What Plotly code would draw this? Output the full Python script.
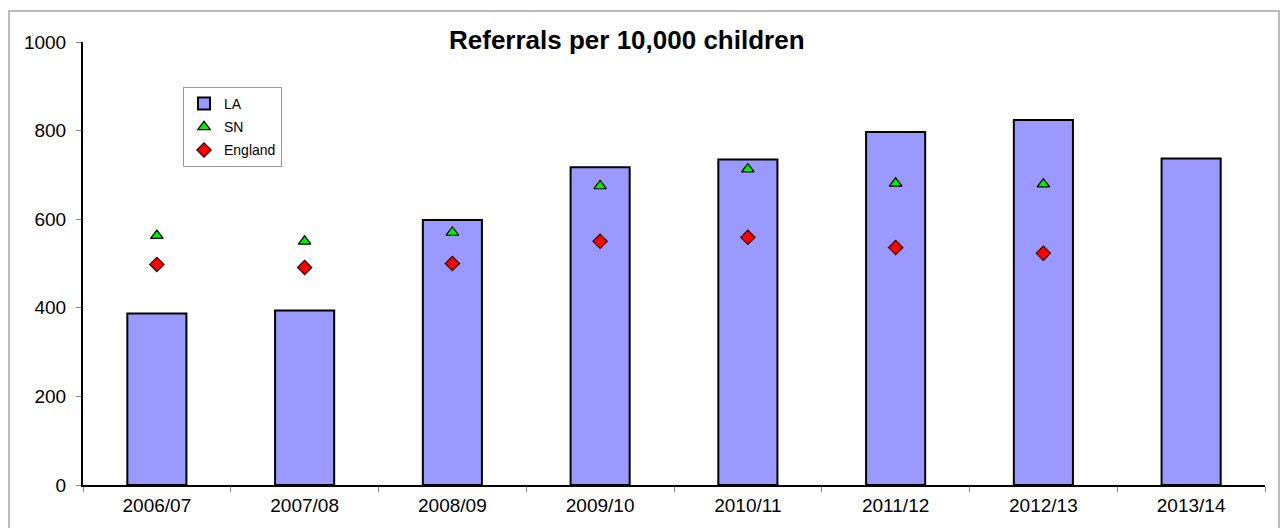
import plotly.graph_objects as go

# Referrals per 10,000 children by year
years = ["2006/07", "2007/08", "2008/09", "2009/10", "2010/11", "2011/12", "2012/13", "2013/14"]
la_values = [387, 394, 598, 717, 735, 797, 824, 737]
sn_values = [563, 550, 570, 675, 713, 681, 679, None]
england_values = [498, 491, 500, 550, 559, 536, 523, None]
y_ticks = [0, 200, 400, 600, 800, 1000]

FONT = "Liberation Sans, Arial, sans-serif"

fig = go.Figure()

fig.add_trace(go.Bar(
    x=years, y=la_values, name="LA", width=0.4,
    marker=dict(color="#9999FF", line=dict(color="#000000", width=2)),
    legendgroup="la",
))
fig.add_trace(go.Scatter(
    x=years, y=sn_values, name="SN", mode="markers",
    marker=dict(symbol="triangle-up", size=11, color="#00EE00",
                line=dict(color="#000000", width=1.2)),
    legendgroup="sn",
))
fig.add_trace(go.Scatter(
    x=years, y=england_values, name="England", mode="markers",
    marker=dict(symbol="diamond", size=11, color="#FF0000",
                line=dict(color="#330000", width=1.2)),
    legendgroup="eng",
))

fig.update_layout(
    width=1281, height=528,
    margin=dict(l=83, r=16, t=42, b=43),
    paper_bgcolor="white", plot_bgcolor="white",
    font=dict(family=FONT, color="#000000"),
    showlegend=True,
    legend=dict(
        x=(183 - 83) / 1182, y=(485 - 87) / 443,
        xanchor="left", yanchor="top",
        bgcolor="white", bordercolor="#999999", borderwidth=1,
        font=dict(size=14, family=FONT),
        tracegroupgap=2, itemwidth=30,
    ),
    annotations=[dict(
        text="<b>Referrals per 10,000 children</b>",
        xref="paper", yref="paper",
        x=(627 - 83) / 1182, y=(485 - 40) / 443,
        xanchor="center", yanchor="middle", showarrow=False,
        font=dict(size=26, family=FONT, color="#000000"),
    )],
    shapes=[dict(
        type="rect", xref="paper", yref="paper",
        x0=(9 - 83) / 1182, x1=(1279 - 83) / 1182,
        y0=-0.3, y1=(485 - 11) / 443,
        line=dict(color="#BBBBBB", width=2), fillcolor="rgba(0,0,0,0)",
        layer="below",
    )],
)

fig.update_xaxes(
    type="category", showgrid=False, showline=True,
    linecolor="#000000", linewidth=2,
    ticks="outside", tickson="boundaries", ticklen=5,
    tickcolor="#888888", tickwidth=1,
    tickfont=dict(size=19, family=FONT),
    ticklabelstandoff=2,
)
fig.update_yaxes(
    range=[0, 1000], tickvals=y_ticks, showgrid=False, zeroline=False,
    showline=True, linecolor="#000000", linewidth=2,
    ticks="outside", ticklen=5, tickcolor="#888888", tickwidth=1,
    tickfont=dict(size=19, family=FONT),
    ticklabelstandoff=6,
)

fig.write_html("out.html")
